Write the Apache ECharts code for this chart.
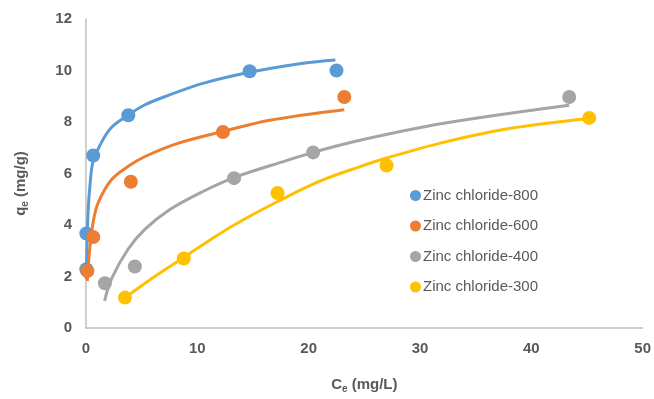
<!DOCTYPE html>
<html><head><meta charset="utf-8">
<script src="https://cdn.jsdelivr.net/npm/echarts@6/dist/echarts.min.js"></script>
<style>html,body{margin:0;padding:0;background:#fff;overflow:hidden}#c{width:654px;height:399px}</style>
</head><body><div id="c"></div>
<script>
// Tick labels
const xTicks = [0, 10, 20, 30, 40, 50];
const yTicks = [0, 2, 4, 6, 8, 10, 12];
const seriesNames = ['Zinc chloride-800', 'Zinc chloride-600', 'Zinc chloride-400', 'Zinc chloride-300'];
const colors = ['#5B9BD5', '#ED7D31', '#A5A5A5', '#FFC000'];

// Measured points (Ce, qe)
const z800X = [0.03, 0.03, 0.65, 3.8, 14.7, 22.5];
const z800Y = [2.28, 3.67, 6.70, 8.26, 9.97, 10.0];
const z600X = [0.12, 0.65, 4.03, 12.3, 23.2];
const z600Y = [2.21, 3.53, 5.68, 7.61, 8.97];
const z400X = [1.7, 4.39, 13.3, 20.4, 43.4];
const z400Y = [1.74, 2.39, 5.82, 6.82, 8.97];
const z300X = [3.5, 8.78, 17.2, 27.0, 45.2];
const z300Y = [1.18, 2.70, 5.24, 6.31, 8.16];

// Fitted curves
const fit800X = [0.03, 0.1, 0.2, 0.35, 0.6, 1.2, 2.2, 3.8, 5.3, 7.5, 10.5, 14.7, 19.5, 22.4];
const fit800Y = [1.9, 3.4, 4.6, 5.5, 6.4, 7.05, 7.75, 8.27, 8.67, 9.05, 9.5, 9.93, 10.28, 10.41];
const fit600X = [0.12, 0.33, 0.63, 1.08, 2.27, 3.76, 5.26, 8.24, 12.2, 16.5, 23.2];
const fit600Y = [1.83, 3.05, 4.08, 4.85, 5.75, 6.27, 6.65, 7.17, 7.62, 8.07, 8.48];
const fit400X = [1.67, 2.27, 3.76, 5.26, 7.53, 10.5, 13.35, 18.0, 20.4, 24.5, 32.0, 43.4];
const fit400Y = [1.05, 1.89, 3.05, 3.82, 4.6, 5.3, 5.85, 6.5, 6.82, 7.28, 7.94, 8.65];
const fit300X = [3.5, 5.5, 7.5, 8.8, 11, 13.5, 17.4, 21, 24.5, 27, 32, 38, 45.2];
const fit300Y = [1.18, 1.8, 2.38, 2.75, 3.38, 4.05, 4.95, 5.7, 6.25, 6.6, 7.2, 7.75, 8.14];

const zip = (a, b) => a.map((v, i) => [v, b[i]]);
const pts = [[z800X, z800Y], [z600X, z600Y], [z400X, z400Y], [z300X, z300Y]];
const fits = [[fit800X, fit800Y], [fit600X, fit600Y], [fit400X, fit400Y], [fit300X, fit300Y]];

const series = [];
for (let i = 0; i < 4; i++) {
  series.push({
    type: 'line', name: 'fit' + i, data: zip(fits[i][0], fits[i][1]),
    smooth: 0.35, showSymbol: false, symbol: 'none',
    lineStyle: { color: colors[i], width: 3 }, z: 2 + i * 2, silent: true
  });
  series.push({
    type: 'scatter', name: seriesNames[i], data: zip(pts[i][0], pts[i][1]),
    symbol: 'circle', symbolSize: 14, itemStyle: { color: colors[i], opacity: 1 }, z: 3 + i * 2
  });
}

const chart = echarts.init(document.getElementById('c'), null, { renderer: 'canvas', width: 654, height: 399 });
const ff = 'Liberation Sans, Arial, sans-serif';
const labelFont = { color: '#595959', fontSize: 15, fontWeight: 'bold', fontFamily: ff };
const rich = { s: { fontSize: 10, fontWeight: 'bold', color: '#595959', fontFamily: ff, verticalAlign: 'bottom', padding: [8, 0, 0, 0] } };
chart.setOption({
  animation: false,
  backgroundColor: '#fff',
  color: colors,
  grid: { left: 86, top: 19, width: 558, height: 310, containLabel: false },
  legend: {
    data: seriesNames, orient: 'vertical', left: 405, top: 183,
    icon: 'circle', itemWidth: 11, itemHeight: 11, itemGap: 15.5,
    textStyle: { color: '#595959', fontSize: 15, fontFamily: ff, padding: [0, 0, 0, -3] }
  },
  xAxis: {
    type: 'value', min: xTicks[0], max: xTicks[xTicks.length - 1], interval: 10,
    splitLine: { show: false }, axisTick: { show: false },
    axisLine: { show: true, lineStyle: { color: '#BFBFBF', width: 1.5 } },
    axisLabel: Object.assign({ margin: 13 }, labelFont),
    name: 'C{s|e} (mg/L)', nameLocation: 'middle', nameGap: 48,
    nameTextStyle: { color: '#595959', fontSize: 15, fontWeight: 'bold', fontFamily: ff, rich: rich }
  },
  yAxis: {
    type: 'value', min: yTicks[0], max: yTicks[yTicks.length - 1], interval: 2,
    splitLine: { show: false }, axisTick: { show: false },
    axisLine: { show: true, lineStyle: { color: '#BFBFBF', width: 1.5 } },
    axisLabel: Object.assign({ margin: 14 }, labelFont),
    name: 'q{s|e} (mg/g)', nameLocation: 'middle', nameGap: 56, nameRotate: 90,
    nameTextStyle: { color: '#595959', fontSize: 15, fontWeight: 'bold', fontFamily: ff, rich: rich, padding: [0, 20, 0, 0] }
  },
  series: series
});
</script></body></html>
